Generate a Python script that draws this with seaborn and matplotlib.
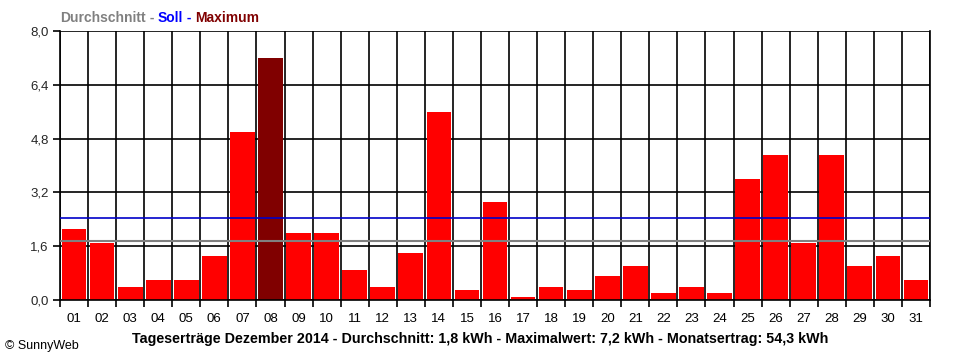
import matplotlib
matplotlib.use("Agg")
import matplotlib.pyplot as plt
import seaborn as sns
import numpy as np
import pandas as pd

days = [f"{i:02d}" for i in range(1, 32)]
values = [2.1, 1.7, 0.4, 0.6, 0.6, 1.3, 5.0, 7.2, 2.0, 2.0,
          0.9, 0.4, 1.4, 5.6, 0.3, 2.9, 0.1, 0.4, 0.3, 0.7,
          1.0, 0.2, 0.4, 0.2, 3.6, 4.3, 1.7, 4.3, 1.0, 1.3, 0.6]
average = 1.75
target = 2.45
y_ticks = [0.0, 1.6, 3.2, 4.8, 6.4, 8.0]
y_labels = ["0,0", "1,6", "3,2", "4,8", "6,4", "8,0"]
footer = "Tageserträge Dezember 2014 - Durchschnitt: 1,8 kWh - Maximalwert: 7,2 kWh - Monatsertrag: 54,3 kWh"

sns.set_theme(style="white")
plt.rcParams['font.family'] = ['Liberation Sans', 'DejaVu Sans']

df = pd.DataFrame({"day": days, "value": values})
vmax = max(values)
palette = {d: ("#800000" if v == vmax else "#FF0000") for d, v in zip(days, values)}

fig = plt.figure(figsize=(9.6, 3.6), dpi=100)
ax = fig.add_axes([60/960, 60/360, 870/960, 269/360])

sns.barplot(data=df, x="day", y="value", hue="day", palette=palette,
            legend=False, width=0.88, saturation=1, ax=ax, zorder=2, linewidth=0)

n = len(days)
ax.set_xlim(-0.5, n - 0.5)
ax.set_ylim(0, 8.0)

# column boundary grid
ax.set_xticks(np.arange(-0.5, n, 1.0), minor=True)
ax.set_xticks(range(n))
ax.set_xticklabels(days)
ax.tick_params(axis="x", which="major", length=0, pad=9, labelsize=9.5, colors="black")
ax.tick_params(axis="x", which="minor", length=5, width=1.2, color="black", direction="out", bottom=True)
ax.set_yticks(y_ticks)
ax.set_yticklabels(y_labels)
ax.tick_params(axis="y", length=5, width=1.2, color="black", direction="out", left=True, labelsize=9.5, pad=3)
ax.grid(True, which="minor", axis="x", color="black", linewidth=1.2, zorder=0)
ax.grid(True, which="major", axis="y", color="black", linewidth=1.2, zorder=0)
ax.grid(False, which="major", axis="x")
ax.set_axisbelow(True)

ax.axhline(target, color="#0000C8", linewidth=1.2, zorder=3)
ax.axhline(average, color="#808080", linewidth=1.5, zorder=3)

for s in ax.spines.values():
    s.set_visible(True)
    s.set_color("black")
    s.set_linewidth(1.2)
ax.spines["top"].set_visible(False)
ax.set_xlabel("")
ax.set_ylabel("")

# header legend text
x0 = 60 / 960
y0 = 1 - 18 / 360
parts = [("Durchschnitt", "#808080"), (" - ", "#808080"), ("Soll", "#0000FF"),
         (" - ", "#0000FF"), ("Maximum", "#800000")]
renderer = fig.canvas.get_renderer()
xpos = x0
for txt, col in parts:
    t = fig.text(xpos, y0, txt, color=col, fontsize=10, fontweight="bold", va="center", ha="left")
    bb = t.get_window_extent(renderer=renderer)
    xpos += bb.width / 960

fig.text(480/960, 1 - 339/360, footer, fontsize=10.3, fontweight="bold", ha="center", va="center", color="black")
fig.text(5/960, 1 - 346/360, "© SunnyWeb", fontsize=9, ha="left", va="center", color="black")

fig.savefig("out.png", dpi=100)
